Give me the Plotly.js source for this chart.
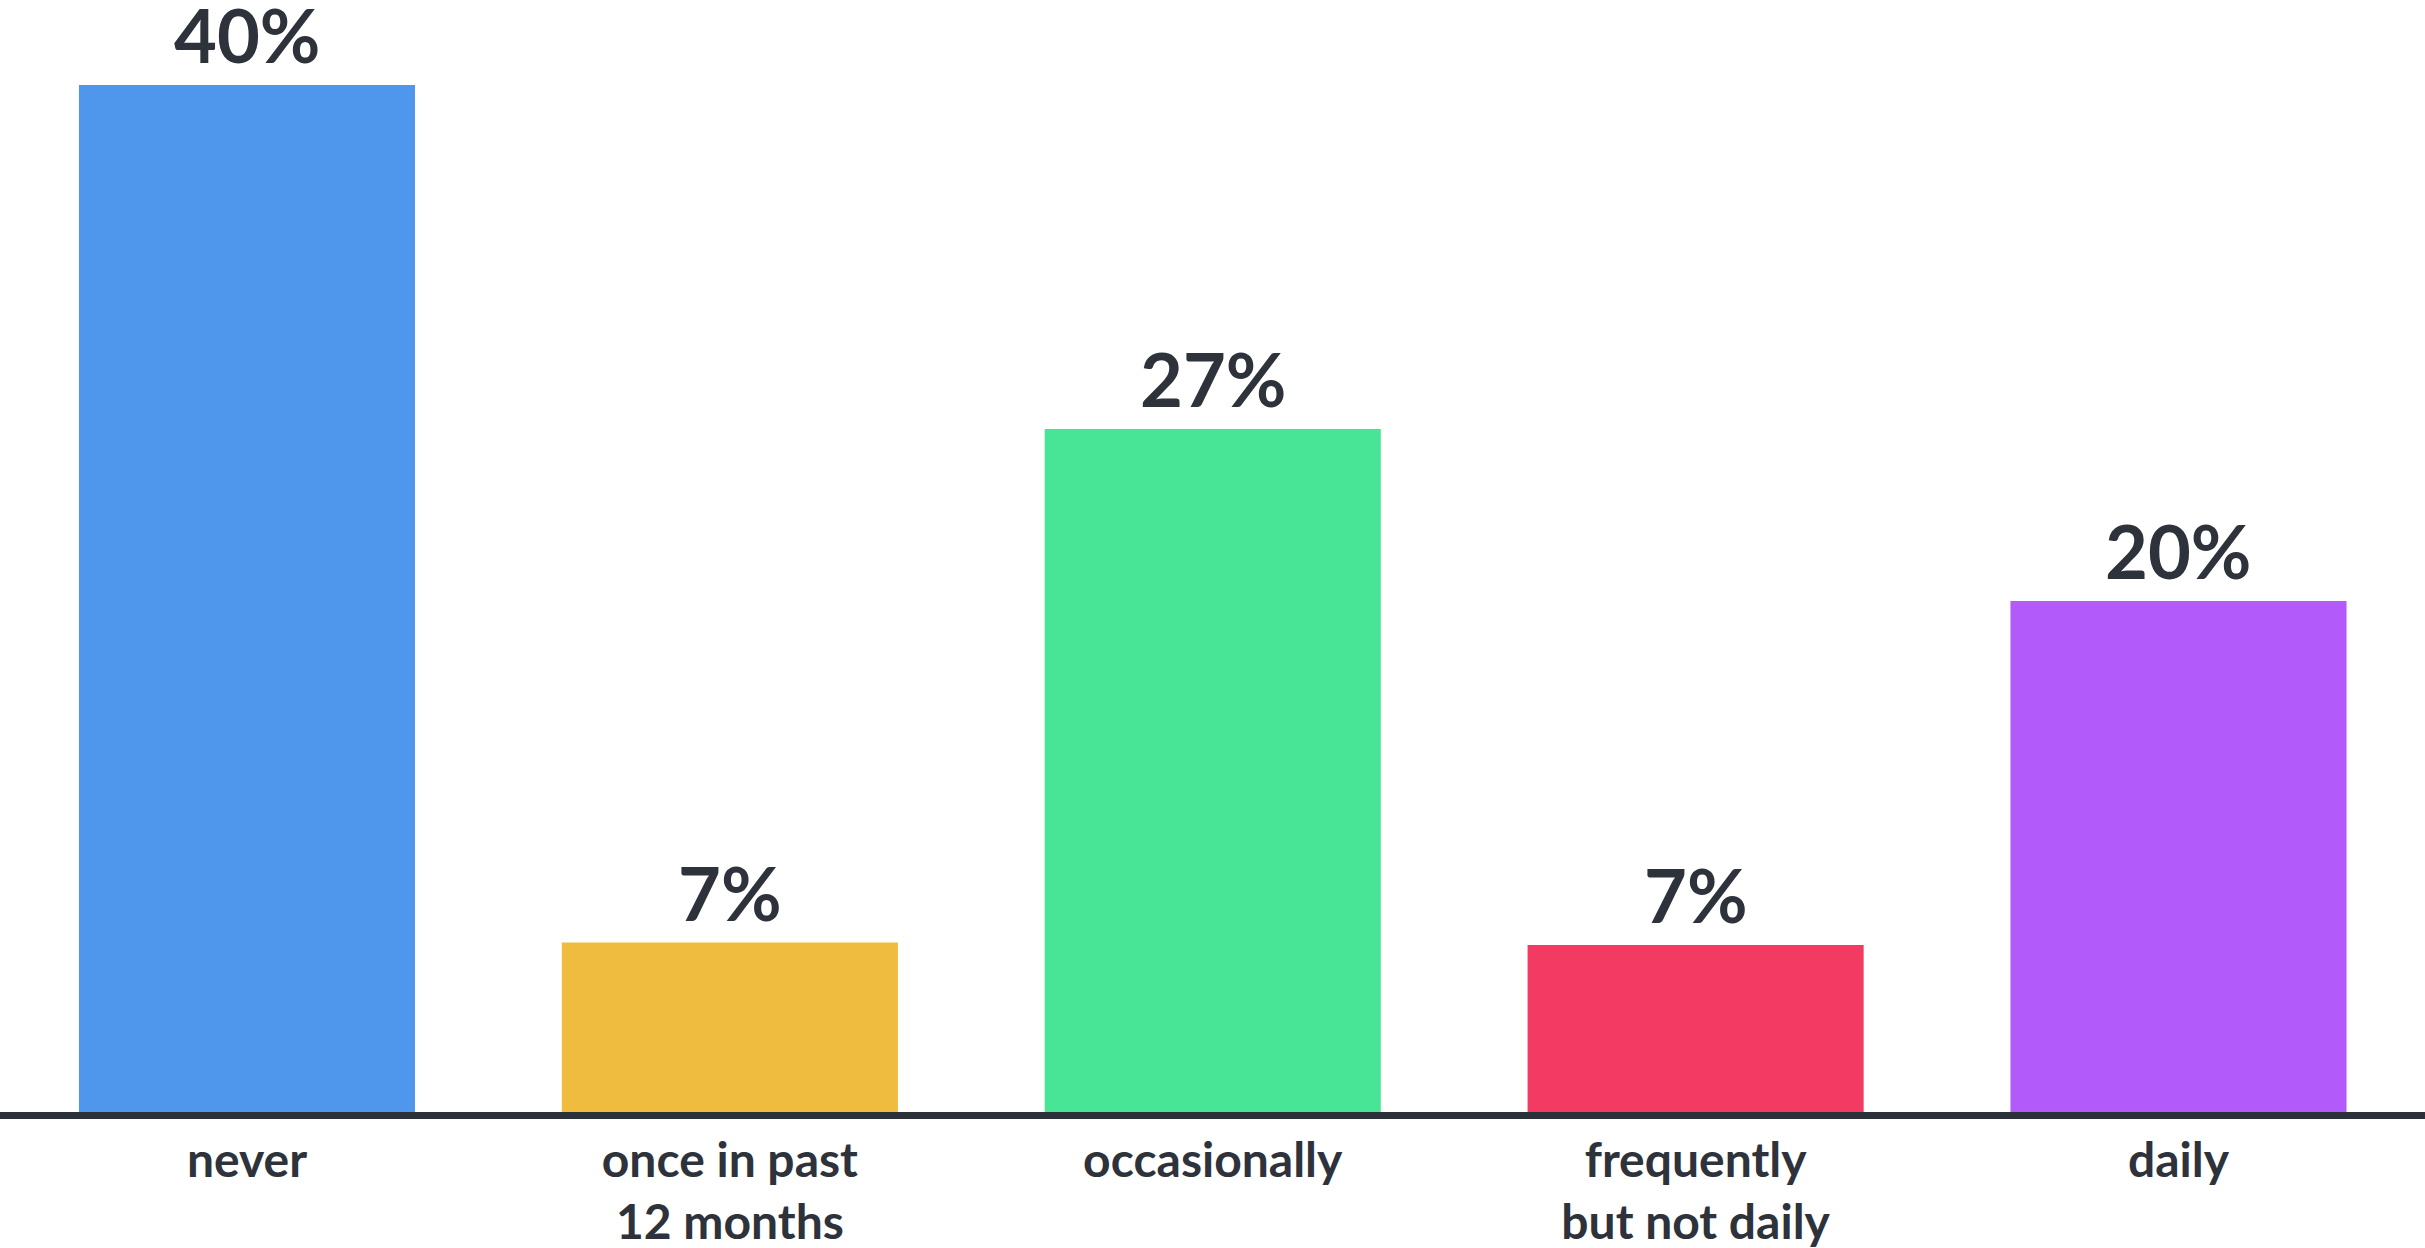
<!DOCTYPE html>
<html>
<head>
<meta charset="utf-8">
<script src="https://cdn.plot.ly/plotly-3.0.1.min.js"></script>
<style>
  html, body { margin: 0; padding: 0; background: #ffffff; }
  #chart { width: 2425px; height: 1248px; }
</style>
</head>
<body>
<div id="chart"></div>
<script>
const categories = ["never", "once in past<br>12 months", "occasionally", "frequently<br>but not daily", "daily"];
const values = [40, 6.6, 26.6, 6.5, 19.9];
const barColors = ["#4e97ec", "#f0bc40", "#47e595", "#f23a63", "#b25bfa"];
const textColor = "#2d323b";

const xs = categories.map((c, i) => i);

const trace = {
  type: "bar",
  x: xs,
  y: values,
  marker: { color: barColors, line: { width: 0 } },
  hoverinfo: "skip"
};

const annotations = values.map((v, i) => ({
  x: xs[i],
  y: v,
  xref: "x",
  yref: "y",
  text: Math.round(v) + "%",
  showarrow: false,
  xanchor: "center",
  yanchor: "bottom",
  yshift: 4,
  font: { family: "Lato, sans-serif", size: 74, color: textColor, weight: 700 }
}));

const layout = {
  width: 2425,
  height: 1248,
  margin: { l: 0, r: 0, t: 0, b: 136 },
  paper_bgcolor: "#ffffff",
  plot_bgcolor: "#ffffff",
  showlegend: false,
  bargap: 0.304,
  annotations: annotations,
  xaxis: {
    range: [-0.5115, 4.5105],
    tickmode: "array",
    tickvals: xs,
    ticktext: categories,
    showgrid: false,
    zeroline: false,
    showline: true,
    linewidth: 7,
    linecolor: "#2c3039",
    ticks: "",
    tickfont: { family: "Lato, sans-serif", size: 48, color: textColor, weight: 700 },
    fixedrange: true
  },
  yaxis: {
    range: [0, 43.31],
    visible: false,
    showgrid: false,
    zeroline: false,
    fixedrange: true
  }
};

Plotly.newPlot("chart", [trace], layout, { displayModeBar: false, staticPlot: true });
</script>
</body>
</html>
